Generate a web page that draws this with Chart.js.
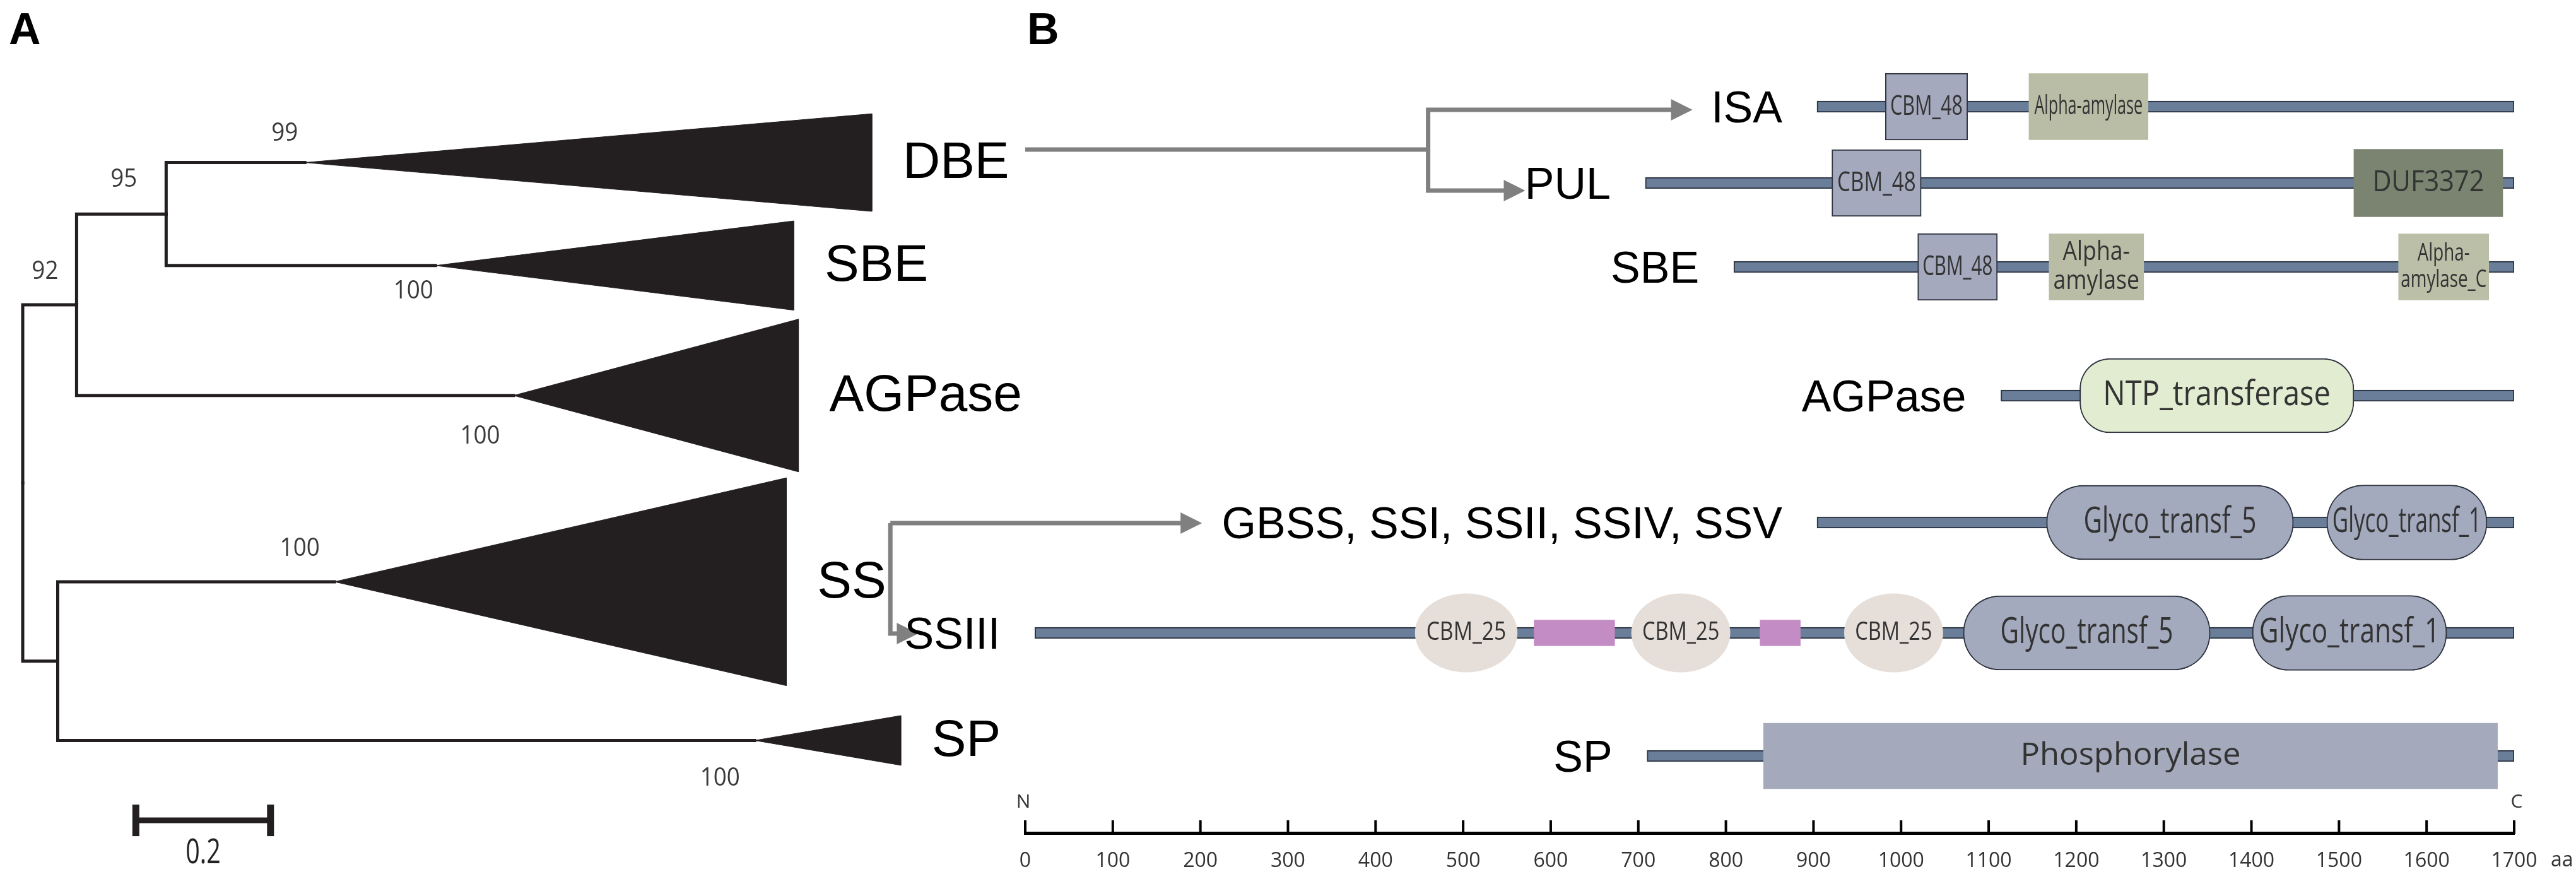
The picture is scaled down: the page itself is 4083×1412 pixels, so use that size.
<!DOCTYPE html>
<html>
<head>
<meta charset="utf-8">
<script src="https://cdn.jsdelivr.net/npm/chart.js@4.4.1/dist/chart.umd.min.js"></script>
<style>
  html, body { margin: 0; padding: 0; background: #fff; }
  #wrap { position: relative; width: 4083px; height: 1412px; }
  #wrap canvas { position: absolute; left: 0; top: 0; }
</style>
</head>
<body>
<div id="wrap">
  <canvas id="treeChart" width="4083" height="1412"></canvas>
  <canvas id="domainChart" width="4083" height="1412"></canvas>
</div>
<script>
// ---- Panel A: collapsed tree (branch lengths in substitutions/site) ----
const cladeNames = ['DBE', 'SBE', 'AGPase', 'SS', 'SP'];
const cladeStem = [0.419, 0.613, 0.729, 0.463, 1.087];    // start of collapsed clade
const cladeDepth = [1.261, 1.145, 1.152, 1.134, 1.304];   // deepest member
const cladeRow = [2.335, 4.055, 6.225, 9.335, 11.985];    // leaf slot
const cladeSpread = [0.815, 0.745, 1.275, 1.735, 0.415];  // half height of the wedge, in slots
const cladeSupport = [99, 100, 100, 100, 100];

const nodeNames = ['root', 'n92', 'n95', 'nSS'];
const nodeDepth = [0, 0.080, 0.213, 0.052];
const nodeSupport = [null, 92, 95, null];
const nodeChildren = [['n92', 'nSS'], ['n95', 'AGPase'], ['DBE', 'SBE'], ['SS', 'SP']];

const scaleBarStart = 0.168;
const scaleBarLength = 0.2;
const scaleBarRow = 13.32;

// ---- Panel B: domain architecture (aa) ----
const proteins = ['ISA', 'PUL', 'SBE', 'AGPase', 'GBSS, SSI, SSII, SSIV, SSV', 'SSIII', 'SP'];
const proteinRow = [1.69, 2.90, 4.23, 6.27, 8.28, 10.03, 11.98];
const proteinStart = [904, 708, 809, 1114, 904, 11, 710];
const proteinEnd = [1700, 1700, 1700, 1700, 1700, 1700, 1700];

const domainProtein = ['ISA', 'ISA', 'PUL', 'PUL', 'SBE', 'SBE', 'SBE', 'AGPase',
  'GBSS, SSI, SSII, SSIV, SSV', 'GBSS, SSI, SSII, SSIV, SSV',
  'SSIII', 'SSIII', 'SSIII', 'SSIII', 'SSIII', 'SSIII', 'SSIII', 'SP'];
const domainName = ['CBM_48', 'Alpha-amylase', 'CBM_48', 'DUF3372', 'CBM_48', 'Alpha-amylase', 'Alpha-amylase_C', 'NTP_transferase',
  'Glyco_transf_5', 'Glyco_transf_1',
  'CBM_25', 'linker', 'CBM_25', 'linker', 'CBM_25', 'Glyco_transf_5', 'Glyco_transf_1', 'Phosphorylase'];
const domainLabel = ['CBM_48', 'Alpha-amylase', 'CBM_48', 'DUF3372', 'CBM_48', 'Alpha-\namylase', 'Alpha-\namylase_C', 'NTP_transferase',
  'Glyco_transf_5', 'Glyco_transf_1',
  'CBM_25', '', 'CBM_25', '', 'CBM_25', 'Glyco_transf_5', 'Glyco_transf_1', 'Phosphorylase'];
const domainStart = [982, 1146, 921, 1517, 1019, 1169, 1568, 1204, 1166, 1486, 445, 581, 692, 839, 935, 1071, 1401, 843];
const domainEnd = [1076, 1282, 1023, 1687, 1110, 1277, 1671, 1517, 1448, 1669, 562, 673, 805, 885, 1048, 1353, 1623, 1681];

const aaMin = 0, aaMax = 1700, aaStep = 100;

// grey connectors from the tree labels to the gene families (last point = arrowhead)
const arrowX = [[0, 460, 460, 746], [460, 460, 555], [-154, 186], [-154, -154, -138]];
const arrowY = [[2.37, 2.37, 1.74, 1.74], [2.37, 3.02, 3.02], [8.29, 8.29], [8.29, 10.04, 10.04]];

// ---- styles ----
const INK = '#231f20';
const ARROW = '#808080';
const domainStyle = {
  'CBM_48':          { fill: '#a4a9bd', border: '#2f3440', bw: 2, h: 106, r: 0,  font: 44, fit: 0.88 },
  'Alpha-amylase':   { fill: '#b9bda6', border: '#b9bda6', bw: 0, h: 105, r: 0,  font: 42, fit: 0.91 },
  'Alpha-amylase_C': { fill: '#bcbfa8', border: '#bcbfa8', bw: 0, h: 105, r: 0,  font: 38, fit: 0.95 },
  'DUF3372':         { fill: '#7a8470', border: '#7a8470', bw: 0, h: 107, r: 0,  font: 46, fit: 0.75 },
  'NTP_transferase': { fill: '#e2ecd0', border: '#2f3440', bw: 2, h: 118, r: 48, font: 54, fit: 0.83 },
  'Glyco_transf_5':  { fill: '#a4aabe', border: '#2f3440', bw: 2, h: 118, r: 58, font: 56, fit: 0.70 },
  'Glyco_transf_1':  { fill: '#a4aabe', border: '#2f3440', bw: 2, h: 119, r: 58, font: 54, fit: 0.93 },
  'CBM_25':          { fill: '#e6ded9', border: '#e6ded9', bw: 0, h: 125, r: 0,  font: 40, fit: 0.78, ellipse: true },
  'linker':          { fill: '#c48cc4', border: '#c48cc4', bw: 0, h: 41,  r: 0 },
  'Phosphorylase':   { fill: '#a4a9bc', border: '#a4a9bc', bw: 0, h: 104, r: 0,  font: 50, fit: 0.30 }
};
const supportOffset = { DBE: [-32, -46], SBE: [-35, 41], AGPase: [-53, 65], SS: [-55, -52], SP: [-55, 60], n95: [-67, -55], n92: [-50, -52] };

function drawSqueezed(ctx, text, cx, cy, size, sx, family, color) {
  ctx.save();
  ctx.font = size + 'px ' + family;
  ctx.fillStyle = color;
  ctx.textAlign = 'center';
  ctx.textBaseline = 'middle';
  ctx.translate(cx, cy);
  ctx.scale(sx, 1);
  ctx.fillText(text, 0, 0);
  ctx.restore();
}

function drawFit(ctx, text, cx, cy, size, maxW) {
  ctx.save();
  ctx.font = size + 'px "Open Sans"';
  ctx.fillStyle = '#333';
  ctx.textAlign = 'center';
  ctx.textBaseline = 'middle';
  const lines = text.split('\n');
  const w = Math.max(...lines.map(l => ctx.measureText(l).width));
  ctx.translate(cx, cy);
  ctx.scale(maxW / w, 1);
  const lh = size * 1.1;
  lines.forEach((l, i) => ctx.fillText(l, 0, (i - (lines.length - 1) / 2) * lh));
  ctx.restore();
}

// ---- build tree geometry ----
const rowOf = {};
const depthOf = {};
cladeNames.forEach((n, i) => { rowOf[n] = cladeRow[i]; depthOf[n] = cladeStem[i]; });
nodeNames.forEach((n, i) => { depthOf[n] = nodeDepth[i]; });
function nodeRow(name) {
  if (rowOf[name] !== undefined) return rowOf[name];
  const k = nodeNames.indexOf(name);
  const r = nodeChildren[k].map(nodeRow).reduce((a, b) => a + b, 0) / nodeChildren[k].length;
  rowOf[name] = r;
  return r;
}
nodeNames.forEach(nodeRow);

const treeSets = [];
nodeNames.forEach((n, k) => {
  nodeChildren[k].forEach(c => {
    treeSets.push({
      data: [{ x: depthOf[n], y: rowOf[n] }, { x: depthOf[n], y: rowOf[c] }, { x: depthOf[c], y: rowOf[c] }],
      borderColor: INK, borderWidth: 5, pointRadius: 0, fill: false, tension: 0, clip: false,
      borderJoinStyle: 'miter', borderCapStyle: 'square'
    });
  });
});
cladeNames.forEach((n, i) => {
  treeSets.push({
    data: [
      { x: cladeStem[i], y: cladeRow[i] },
      { x: cladeDepth[i], y: cladeRow[i] - cladeSpread[i] },
      { x: cladeDepth[i], y: cladeRow[i] + cladeSpread[i] },
      { x: cladeStem[i], y: cladeRow[i] }
    ],
    borderColor: INK, borderWidth: 1, backgroundColor: INK, fill: 'shape',
    pointRadius: 0, tension: 0, clip: false
  });
});
treeSets.push({
  data: [{ x: scaleBarStart, y: scaleBarRow }, { x: scaleBarStart + scaleBarLength, y: scaleBarRow }],
  borderColor: INK, borderWidth: 9, fill: false, tension: 0, clip: false,
  pointStyle: 'line', pointRadius: 25, pointRotation: 90, pointBorderWidth: 11, pointBorderColor: INK
});

const treeLabels = {
  id: 'treeLabels',
  afterDatasetsDraw(chart) {
    const { ctx, scales: { x, y } } = chart;
    ctx.save();
    ctx.fillStyle = '#000';
    ctx.font = 'bold 70px "Liberation Sans"';
    ctx.textBaseline = 'alphabetic';
    ctx.textAlign = 'left';
    ctx.fillText('A', 14, 70);

    ctx.font = '82px "Liberation Sans"';
    ctx.textBaseline = 'middle';
    cladeNames.forEach((n, i) => {
      ctx.fillText(n, x.getPixelForValue(cladeDepth[i]) + 49, y.getPixelForValue(cladeRow[i]) + 2);
    });
    ctx.restore();

    cladeNames.forEach((n, i) => {
      const o = supportOffset[n];
      drawSqueezed(ctx, String(cladeSupport[i]), x.getPixelForValue(cladeStem[i]) + o[0],
        y.getPixelForValue(cladeRow[i]) + o[1], 40, 0.92, '"Open Sans"', '#3a3a3a');
    });
    nodeNames.forEach((n, k) => {
      if (nodeSupport[k] == null) return;
      const o = supportOffset[n];
      drawSqueezed(ctx, String(nodeSupport[k]), x.getPixelForValue(nodeDepth[k]) + o[0],
        y.getPixelForValue(rowOf[n]) + o[1], 40, 0.92, '"Open Sans"', '#3a3a3a');
    });
    drawSqueezed(ctx, String(scaleBarLength), x.getPixelForValue(scaleBarStart + scaleBarLength / 2),
      y.getPixelForValue(scaleBarRow) + 53, 54, 0.73, '"Open Sans"', '#222');
  }
};

new Chart(document.getElementById('treeChart'), {
  type: 'line',
  data: { datasets: treeSets },
  options: {
    responsive: false, devicePixelRatio: 1, animation: false, events: [],
    layout: { padding: { left: 17, right: 2446, top: 0, bottom: 0 } },
    scales: {
      x: { type: 'linear', min: 0, max: 1.5, display: false, offset: false },
      y: { type: 'linear', min: 0, max: 14.12, reverse: true, display: false, offset: false }
    },
    plugins: { legend: { display: false }, tooltip: { enabled: false } }
  },
  plugins: [treeLabels]
});

// ---- domain chart ----
const rowByProtein = {};
proteins.forEach((p, i) => { rowByProtein[p] = proteinRow[i]; });

const domainSets = [];
domainSets.push({
  type: 'bar', indexAxis: 'y', grouped: false, order: 20,
  data: proteins.map((p, i) => ({ x: [proteinStart[i], proteinEnd[i]], y: proteinRow[i] })),
  backgroundColor: '#6a7e9a', borderColor: '#2a323e', borderWidth: 2, borderSkipped: false,
  barThickness: 18
});
Object.keys(domainStyle).forEach(name => {
  const idx = domainName.map((d, i) => d === name ? i : -1).filter(i => i >= 0);
  if (!idx.length) return;
  const st = domainStyle[name];
  domainSets.push({
    type: 'bar', indexAxis: 'y', grouped: false, order: 10,
    data: idx.map(i => ({ x: [domainStart[i], domainEnd[i]], y: rowByProtein[domainProtein[i]] })),
    labels: idx.map(i => domainLabel[i]),
    styleKey: name,
    ellipse: !!st.ellipse,
    backgroundColor: st.ellipse ? 'rgba(0,0,0,0)' : st.fill,
    borderColor: st.ellipse ? 'rgba(0,0,0,0)' : st.border,
    borderWidth: st.bw, borderSkipped: false, borderRadius: st.r,
    barThickness: st.h
  });
});
arrowX.forEach((xs, k) => {
  domainSets.push({
    type: 'line', indexAxis: 'y', order: 1, arrow: true,
    data: xs.map((v, i) => ({ x: v, y: arrowY[k][i] })),
    borderColor: ARROW, borderWidth: 7, tension: 0, fill: false, clip: false,
    borderJoinStyle: 'miter', pointRadius: 0
  });
});

const domainDecor = {
  id: 'domainDecor',
  afterDatasetDraw(chart, args) {
    const ds = chart.data.datasets[args.index];
    const ctx = chart.ctx;
    if (ds.arrow) {
      // arrowhead at the last point of the connector
      const el = args.meta.data[args.meta.data.length - 1];
      ctx.save();
      ctx.fillStyle = ARROW;
      ctx.beginPath();
      ctx.moveTo(el.x + 22, el.y);
      ctx.lineTo(el.x - 12, el.y - 17);
      ctx.lineTo(el.x - 12, el.y + 17);
      ctx.closePath();
      ctx.fill();
      ctx.restore();
      return;
    }
    if (!ds.ellipse) return;
    const st = domainStyle[ds.styleKey];
    ctx.save();
    ctx.fillStyle = st.fill;
    args.meta.data.forEach(el => {
      const p = el.getProps(['x', 'y', 'base', 'height'], true);
      ctx.beginPath();
      ctx.ellipse((p.x + p.base) / 2, p.y, Math.abs(p.x - p.base) / 2, p.height / 2, 0, 0, Math.PI * 2);
      ctx.fill();
    });
    ctx.restore();
  },
  afterDatasetsDraw(chart) {
    const { ctx, scales: { x, y } } = chart;
    // domain names
    chart.data.datasets.forEach((ds, di) => {
      if (!ds.labels) return;
      const st = domainStyle[ds.styleKey];
      chart.getDatasetMeta(di).data.forEach((el, j) => {
        const txt = ds.labels[j];
        if (!txt) return;
        const p = el.getProps(['x', 'y', 'base'], true);
        drawFit(ctx, txt, (p.x + p.base) / 2, p.y, st.font, Math.abs(p.x - p.base) * st.fit);
      });
    });
    // protein names
    ctx.save();
    ctx.fillStyle = '#000';
    ctx.font = '70px "Liberation Sans"';
    ctx.textAlign = 'right';
    ctx.textBaseline = 'middle';
    proteins.forEach((p, i) => {
      ctx.fillText(p, x.getPixelForValue(proteinStart[i]) - 55, y.getPixelForValue(proteinRow[i]) + 6);
    });
    ctx.textAlign = 'left';
    ctx.textBaseline = 'alphabetic';
    ctx.font = 'bold 70px "Liberation Sans"';
    ctx.fillText('B', 1628, 70);

    // upward ticks, N / C and unit
    const axisY = x.top;
    ctx.strokeStyle = '#000';
    ctx.lineWidth = 4;
    x.ticks.forEach(t => {
      const px = x.getPixelForValue(t.value);
      ctx.beginPath();
      ctx.moveTo(px, axisY + 2);
      ctx.lineTo(px, axisY - 20);
      ctx.stroke();
    });
    ctx.fillStyle = '#333';
    ctx.font = '30px "Open Sans"';
    ctx.textAlign = 'center';
    ctx.textBaseline = 'middle';
    ctx.fillText('N', x.getPixelForValue(aaMin) - 3, axisY - 49);
    ctx.fillText('C', x.getPixelForValue(aaMax) + 4, axisY - 49);
    ctx.font = '32px "Open Sans"';
    ctx.textAlign = 'left';
    ctx.fillText('aa', x.getPixelForValue(aaMax) + 58, axisY + 44);
    ctx.restore();
  }
};

new Chart(document.getElementById('domainChart'), {
  type: 'bar',
  data: { datasets: domainSets },
  options: {
    responsive: false, devicePixelRatio: 1, animation: false, events: [],
    layout: { padding: { left: 1625, right: 98, top: 0, bottom: 0 } },
    scales: {
      x: {
        type: 'linear', min: aaMin, max: aaMax, position: 'bottom', offset: false,
        afterFit(s) { s.height = 92; },
        grid: { display: true, drawOnChartArea: false, drawTicks: false, offset: false },
        border: { display: true, color: '#000', width: 5 },
        ticks: {
          stepSize: aaStep, autoSkip: false, maxRotation: 0, padding: 26,
          color: '#333', font: { family: 'Open Sans', size: 32 },
          callback: v => String(v)
        }
      },
      y: { type: 'linear', min: 0, max: 13.2, reverse: true, display: false, offset: false, grid: { offset: false } }
    },
    plugins: { legend: { display: false }, tooltip: { enabled: false } }
  },
  plugins: [domainDecor]
});
</script>
</body>
</html>
